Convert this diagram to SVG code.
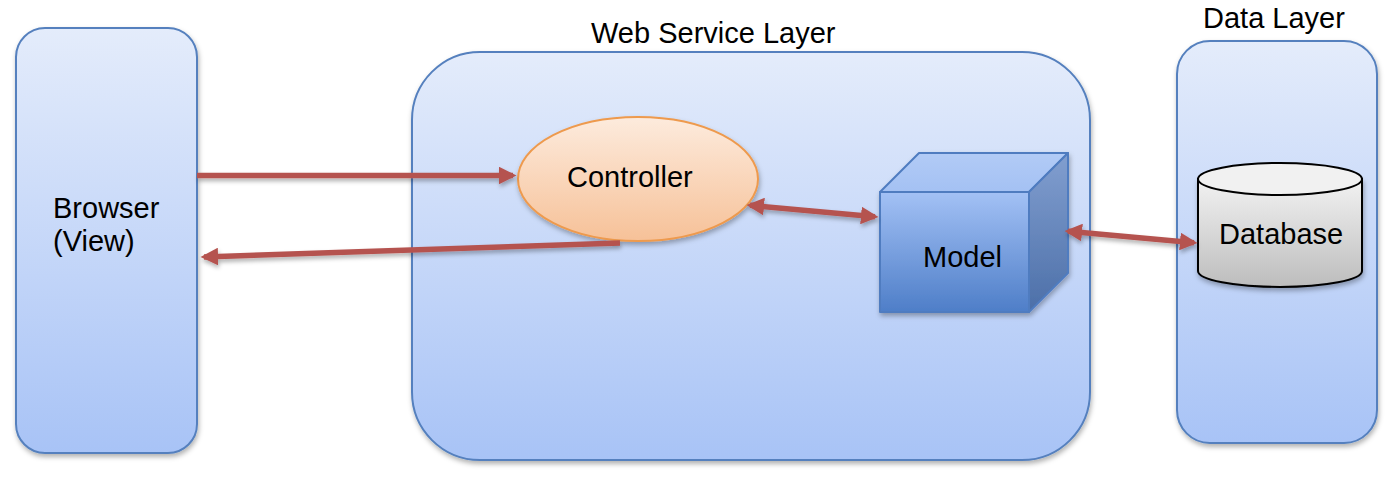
<svg xmlns="http://www.w3.org/2000/svg" width="1394" height="484" viewBox="0 0 1394 484">
<defs>
<linearGradient id="gBox" x1="0" y1="0" x2="0" y2="1"><stop offset="0" stop-color="#E4ECFB"/><stop offset="1" stop-color="#A8C3F6"/></linearGradient>
<linearGradient id="gCtrl" x1="0" y1="0" x2="0" y2="1"><stop offset="0" stop-color="#FDEBDD"/><stop offset="1" stop-color="#F6C198"/></linearGradient>
<linearGradient id="gFront" x1="0" y1="0" x2="0" y2="1"><stop offset="0" stop-color="#A3C1F5"/><stop offset="1" stop-color="#4E7EC8"/></linearGradient>
<linearGradient id="gTop" x1="0" y1="0" x2="0" y2="1"><stop offset="0" stop-color="#B2CBF6"/><stop offset="1" stop-color="#A4C1F3"/></linearGradient>
<linearGradient id="gSide" x1="0" y1="0" x2="0" y2="1"><stop offset="0" stop-color="#829FD0"/><stop offset="1" stop-color="#4C6FA8"/></linearGradient>
<linearGradient id="gCyl" x1="0" y1="0" x2="0" y2="1"><stop offset="0" stop-color="#F2F2F2"/><stop offset="1" stop-color="#BDBDBD"/></linearGradient>
<filter id="sh" x="-10%" y="-10%" width="120%" height="130%"><feDropShadow dx="1" dy="3" stdDeviation="2.5" flood-color="#000" flood-opacity="0.3"/></filter>
<filter id="shc" filterUnits="userSpaceOnUse" x="0" y="0" width="1394" height="484"><feDropShadow dx="1" dy="3" stdDeviation="2" flood-color="#000" flood-opacity="0.3"/></filter>
<marker id="ah" viewBox="0 0 10 10" refX="8" refY="5" markerWidth="3.2" markerHeight="3.2" orient="auto-start-reverse" markerUnits="strokeWidth"><path d="M0,0 L10,5 L0,10 Z" fill="#B5534F"/></marker>
<style>
.layer{fill:url(#gBox);stroke:#5580BE;stroke-width:2;filter:url(#sh)}
.lbl{font-family:"Liberation Sans",Arial,sans-serif;font-size:29px;fill:#000}
.conn{stroke:#B5534F;stroke-width:5.5;fill:none}
</style>
</defs>
<g id="browser">
<rect class="layer" x="16" y="28" width="181" height="425" rx="29"/>
<text class="lbl" x="53" y="218">Browser</text>
<text class="lbl" x="53" y="251">(View)</text>
</g>
<g id="web-service-layer">
<rect class="layer" x="412" y="52" width="678" height="408" rx="68"/>
<text class="lbl" x="591" y="43">Web Service Layer</text>
</g>
<g id="data-layer">
<rect class="layer" x="1177" y="41" width="200" height="402" rx="33"/>
<text class="lbl" x="1203" y="28">Data Layer</text>
</g>
<g id="controller">
<ellipse cx="638" cy="179" rx="120" ry="62" fill="url(#gCtrl)" stroke="#EE9A4E" stroke-width="2" filter="url(#sh)"/>
<text class="lbl" x="567" y="187">Controller</text>
</g>
<g id="model" stroke="#4F7CC0" stroke-width="2" stroke-linejoin="round">
<g filter="url(#sh)">
<polygon points="880,192 919,153 1068,153 1029,192" fill="url(#gTop)"/>
<polygon points="1029,192 1068,153 1068,273 1029,312" fill="url(#gSide)"/>
<rect x="880" y="192" width="149" height="120" fill="url(#gFront)"/>
</g>
<text class="lbl" x="923" y="267" stroke="none">Model</text>
</g>
<g id="database">
<path d="M1198,179 L1198,271 A82,16 0 0 0 1362,271 L1362,179 Z" fill="url(#gCyl)" stroke="#000" stroke-width="2" filter="url(#sh)"/>
<ellipse cx="1280" cy="179" rx="82" ry="16" fill="#F1F1F1" stroke="#000" stroke-width="2"/>
<text class="lbl" x="1219" y="244">Database</text>
</g>
<g id="connectors" filter="url(#shc)">
<line class="conn" x1="197" y1="175.5" x2="513" y2="175.5" marker-end="url(#ah)"/>
<line class="conn" x1="620" y1="243" x2="204" y2="257" marker-end="url(#ah)"/>
<line class="conn" x1="750" y1="205.3" x2="875" y2="216.7" marker-start="url(#ah)" marker-end="url(#ah)"/>
<line class="conn" x1="1068" y1="231.3" x2="1194" y2="242.7" marker-start="url(#ah)" marker-end="url(#ah)"/>
</g>
</svg>
